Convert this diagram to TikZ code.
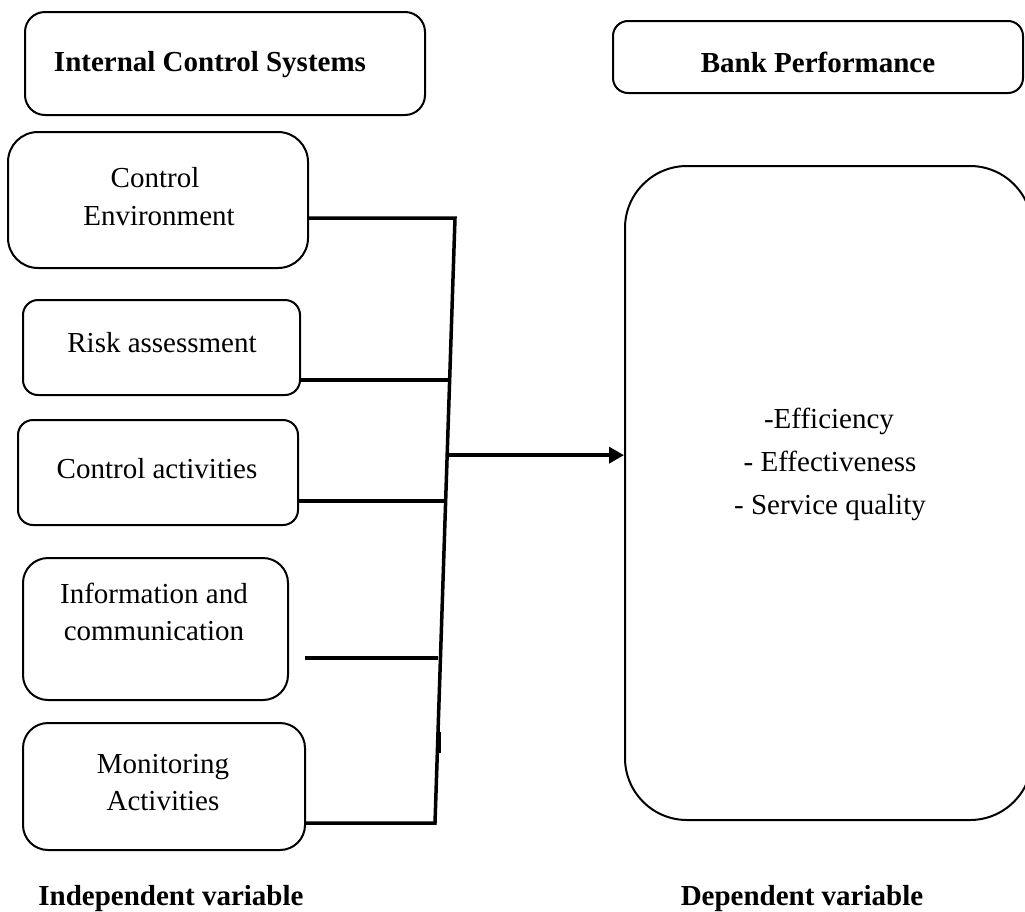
\documentclass[tikz,border=0pt]{standalone}
\usepackage{fontspec}
\setmainfont{Liberation Serif}
\usetikzlibrary{arrows.meta,calc}
\begin{document}
\begin{tikzpicture}[x=1pt,y=-1pt,
  box/.style={draw=black,line width=2pt,rectangle,inner sep=0pt},
  conn/.style={draw=black,line width=3.5pt,line join=miter},
  lbl/.style={anchor=base,inner sep=0pt,font=\fontsize{29}{38}\selectfont},
  blbl/.style={lbl,font=\fontsize{29}{38}\selectfont\bfseries}]
\useasboundingbox (0,0) rectangle (1025,911);
\clip (0,0) rectangle (1025,911);
% boxes
\node[box,rounded corners=20pt,minimum width=400pt,minimum height=103pt] (ics) at (225,63.5) {};
\node[box,rounded corners=15pt,minimum width=410pt,minimum height=72pt] (bank) at (818,57) {};
\node[box,rounded corners=30pt,minimum width=300pt,minimum height=136pt] (ce) at (158,200) {};
\node[box,rounded corners=15pt,minimum width=277pt,minimum height=95pt] (ra) at (161.5,347.5) {};
\node[box,rounded corners=15pt,minimum width=280pt,minimum height=105pt] (ca) at (158,472.5) {};
\node[box,rounded corners=25pt,minimum width=265pt,minimum height=142pt] (ic) at (155.5,629) {};
\node[box,rounded corners=25pt,minimum width=282pt,minimum height=127pt] (ma) at (164,786.5) {};
\node[box,rounded corners=62pt,minimum width=407pt,minimum height=654pt] (perf) at (828.5,493) {};
% texts
\node[blbl] (t-ics) at (210,71) {Internal Control Systems};
\node[blbl] (t-bank) at (818,72) {Bank Performance};
\node[lbl] (t-ce1) at (155,187) {Control};
\node[lbl] (t-ce2) at (159,225) {Environment};
\node[lbl] (t-ra) at (162,352) {Risk assessment};
\node[lbl] (t-ca) at (157,478) {Control activities};
\node[lbl] (t-ic1) at (154,603) {Information and};
\node[lbl] (t-ic2) at (154,640) {communication};
\node[lbl] (t-ma1) at (163,773) {Monitoring};
\node[lbl] (t-ma2) at (163,810) {Activities};
\node[lbl] (t-p1) at (829,428) {-Efficiency};
\node[lbl] (t-p2) at (830,471) {- Effectiveness};
\node[lbl] (t-p3) at (830,514) {- Service quality};
\node[blbl] (t-iv) at (171,905) {Independent variable};
\node[blbl] (t-dv) at (802,905) {Dependent variable};
% connectors
\coordinate (top) at (455,218);
\coordinate (bot) at (435,823);
\coordinate (j1) at ($(top)!0.268!(bot)$);
\coordinate (ja) at ($(top)!0.392!(bot)$);
\coordinate (j2) at ($(top)!0.468!(bot)$);
\coordinate (j4) at (438,658);
\coordinate (icstart) at (305,658);
\coordinate (kA) at (438.5,732);
\coordinate (kB) at (438.5,753);
\draw[conn] (ce.east |- top) -- (top) -- (bot) -- (ma.east |- bot);
\draw[conn] (ra.east |- j1) -- (j1);
\draw[conn] (ca.east |- j2) -- (j2);
\draw[conn] (icstart) -- (j4);
\draw[conn,line width=4pt] (kA) -- (kB);
\draw[conn,-{Triangle[length=15pt,width=16pt]}] (ja) -- (ja -| perf.west);
\end{tikzpicture}
\end{document}
